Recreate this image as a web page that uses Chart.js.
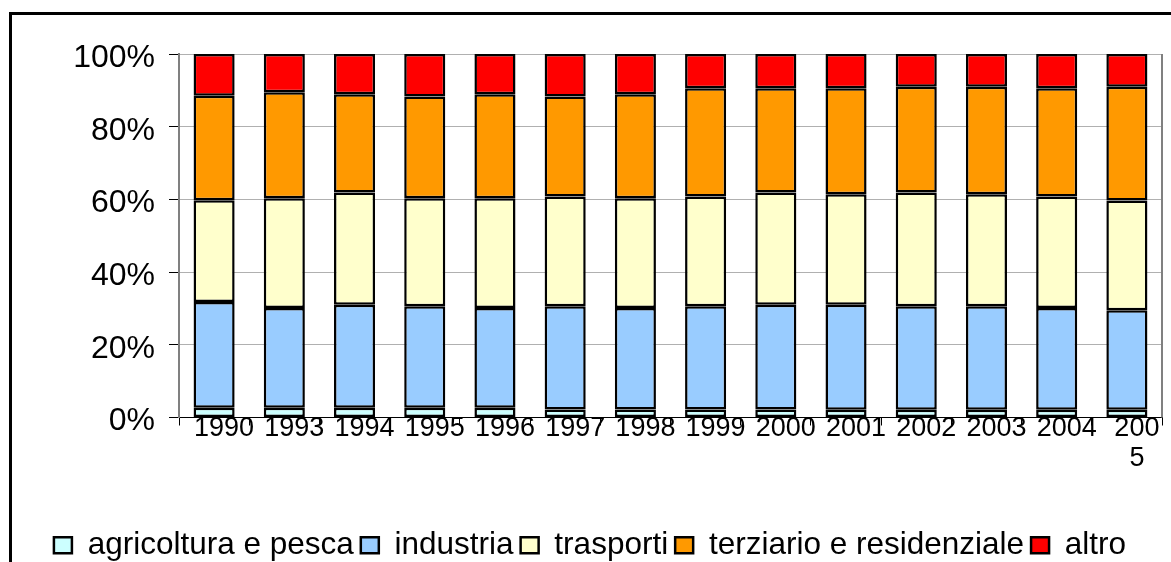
<!DOCTYPE html>
<html>
<head>
<meta charset="utf-8">
<script src="https://cdn.jsdelivr.net/npm/chart.js@4/dist/chart.umd.min.js"></script>
<style>
html,body{margin:0;padding:0;background:#fff;overflow:hidden;}
#wrap{position:relative;width:1171px;height:562px;}
#frame{position:absolute;left:9px;top:12px;width:1200px;height:600px;border:3px solid #000;box-sizing:border-box;}
canvas{position:absolute;left:0;top:0;}
</style>
</head>
<body>
<div id="wrap">
<div id="frame"></div>
<canvas id="chart" width="1171" height="562"></canvas>
</div>
<script>
/* DATA */
const years=["1990","1993","1994","1995","1996","1997","1998","1999","2000","2001","2002","2003","2004",["200","5"]];
const agricoltura=[2.7,2.7,2.7,2.7,2.7,2.2,2.2,2.2,2.2,2.1,2.1,2.1,2.1,2.1];
const industria=[29.1,27.4,28.3,27.9,27.4,28.4,27.9,28.4,28.8,28.9,28.5,28.5,28.0,27.4];
const trasporti=[28.0,30.2,30.9,29.7,30.2,30.2,30.2,30.2,30.9,30.4,31.3,30.8,30.7,30.2];
const terziario=[28.7,29.2,27.0,28.0,28.6,27.5,28.6,29.8,28.7,29.2,29.1,29.6,29.8,31.3];
const altro=[11.5,10.5,11.1,11.7,11.1,11.7,11.1,9.4,9.4,9.4,9.0,9.0,9.4,9.0];
const yTicks=[0,20,40,60,80,100];

const FONT="'Liberation Sans', Arial, sans-serif";

function ds(label,data,color){
    return {label:label,data:data,backgroundColor:color,borderColor:"#000",borderWidth:2.5,borderSkipped:false};
}

/* right border of plot area */
const rightEdge={
    id:"rightEdge",
    afterDraw(chart){
        const a=chart.chartArea, c=chart.ctx;
        c.save();
        c.strokeStyle="#808080";
        c.lineWidth=2;
        c.beginPath();
        c.moveTo(a.right,a.top);
        c.lineTo(a.right,a.bottom);
        c.stroke();
        c.restore();
    }
};

new Chart(document.getElementById("chart"),{
    type:"bar",
    data:{
        labels:years,
        datasets:[
            ds("agricoltura e pesca",agricoltura,"#CCFFFF"),
            ds("industria",industria,"#99CCFF"),
            ds("trasporti",trasporti,"#FFFFCC"),
            ds("terziario e residenziale",terziario,"#FF9900"),
            ds("altro",altro,"#FF0000")
        ]
    },
    options:{
        responsive:false,
        animation:false,
        layout:{padding:{left:18,right:9,top:54,bottom:-9}},
        plugins:{
            tooltip:{enabled:false},
            legend:{
                position:"bottom",
                labels:{
                    font:{family:FONT,size:31.5,lineHeight:1},
                    color:"#000",
                    boxWidth:18,
                    boxHeight:16,
                    padding:7
                }
            }
        },
        datasets:{bar:{barPercentage:0.585,categoryPercentage:1}},
        scales:{
            x:{
                stacked:true,
                grid:{drawOnChartArea:false,drawTicks:true,tickLength:8,tickColor:"#000",offset:true},
                border:{color:"#000",width:1},
                ticks:{
                    font:{family:FONT,size:27,lineHeight:1.1},
                    color:"#000",
                    maxRotation:0,
                    autoSkip:false,
                    labelOffset:10,
                    padding:-12
                },
                afterFit(scale){scale.height=105;}
            },
            y:{
                stacked:true,
                min:0,
                max:100,
                afterBuildTicks(scale){scale.ticks=yTicks.map(v=>({value:v}));},
                grid:{color:"#b0b0b0",lineWidth:1,tickLength:10,tickColor:"#000"},
                border:{color:"#808080",width:2},
                ticks:{
                    font:{family:FONT,size:32},
                    color:"#000",
                    padding:14,
                    labelOffset:4,
                    callback:v=>v+"%"
                },
                afterFit(scale){scale.width=161;}
            }
        }
    },
    plugins:[rightEdge]
});
</script>
</body>
</html>
